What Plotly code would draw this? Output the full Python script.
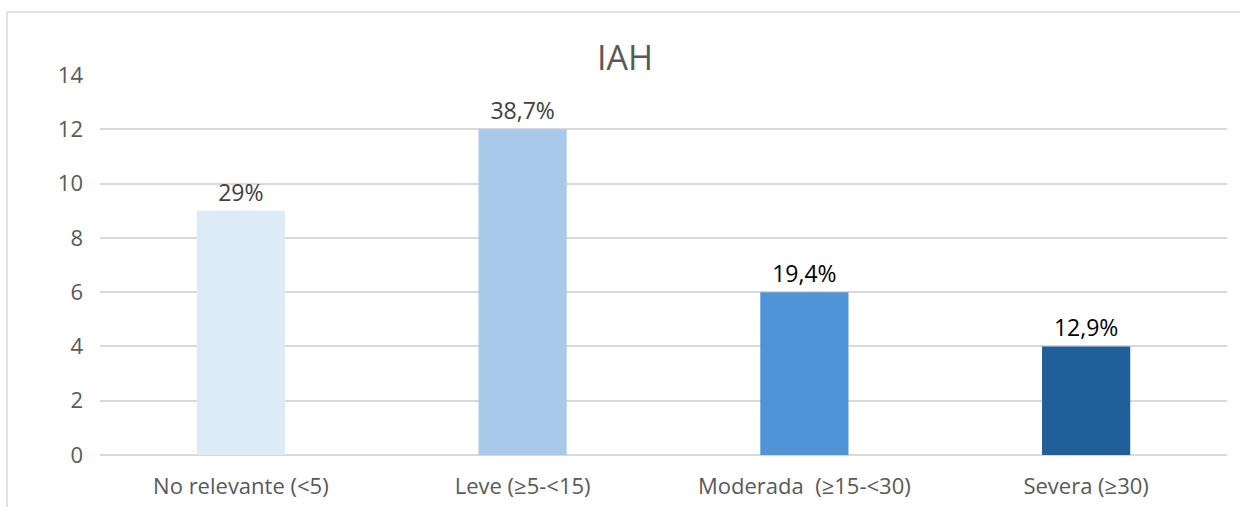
import plotly.graph_objects as go

categories = ["No relevante (<5)", "Leve (≥5-<15)", "Moderada  (≥15-<30)", "Severa (≥30)"]
values = [9, 12, 6, 4]
labels = ["29%", "38,7%", "19,4%", "12,9%"]
colors = ["#DDEBF7", "#A9C9EB", "#4F94D8", "#215F9A"]
label_colors = ["#404040", "#404040", "#000000", "#000000"]
y_ticks = [0, 2, 4, 6, 8, 10, 12, 14]

fig = go.Figure(go.Bar(
    x=categories, y=values, text=labels, textposition="outside",
    marker=dict(color=colors, line=dict(width=0)),
    textfont=dict(size=23, color=label_colors, family="Open Sans"),
    cliponaxis=False, showlegend=False,
))

fig.update_layout(
    width=1240, height=507,
    margin=dict(l=100, r=13, t=75, b=52),
    paper_bgcolor="white", plot_bgcolor="white",
    bargap=0.687,
    font=dict(family="Open Sans", color="#595959", size=21),
    title=dict(text="IAH", x=0.504, xanchor="center", y=0.885, yanchor="middle",
               font=dict(size=34, color="#595959", family="Open Sans")),
    xaxis=dict(showgrid=False, showline=False, ticks="", ticklabelstandoff=16,
               automargin=False, tickfont=dict(size=22, color="#595959")),
    yaxis=dict(range=[0, 14], tickvals=y_ticks, showgrid=True, gridcolor="#D9D9D9",
               gridwidth=1.5, zeroline=True, zerolinecolor="#D9D9D9", zerolinewidth=1.5,
               automargin=False, ticks="", ticklabelstandoff=16,
               tickfont=dict(size=22, color="#595959")),
    shapes=[
        dict(type="line", xref="paper", yref="paper", x0=-0.0825, x1=-0.0825, y0=1.166, y1=-0.2,
             line=dict(color="#D9D9D9", width=1.5)),
        dict(type="line", xref="paper", yref="paper", x0=-0.0825, x1=1.05, y0=1.166, y1=1.166,
             line=dict(color="#D9D9D9", width=1.5)),
    ],
)

fig.write_html("out.html")
